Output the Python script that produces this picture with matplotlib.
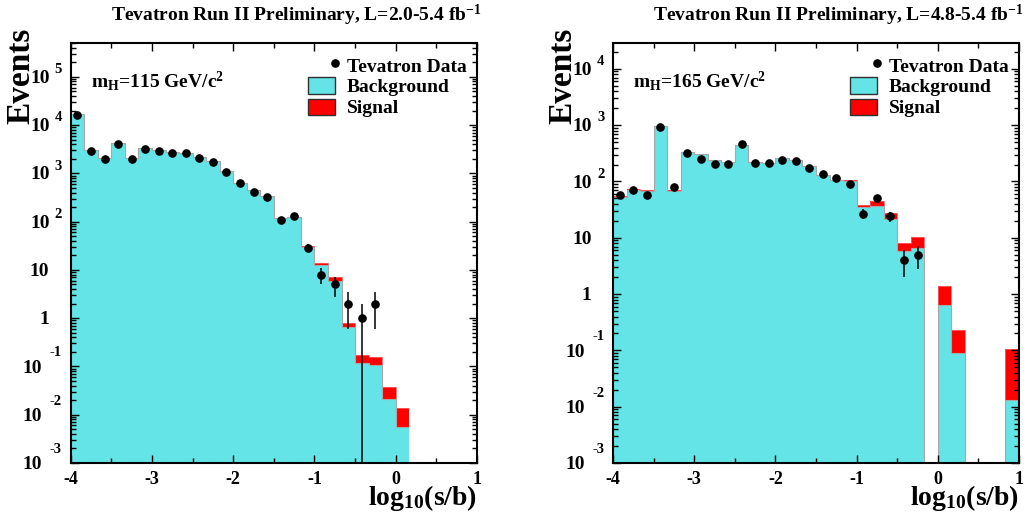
import matplotlib
matplotlib.use('Agg')
import matplotlib.pyplot as plt
import numpy as np
from matplotlib.patches import Rectangle

plt.rcParams['font.family'] = ['Liberation Serif', 'DejaVu Serif']
plt.rcParams['font.weight'] = 'bold'
plt.rcParams['mathtext.fontset'] = 'custom'
plt.rcParams['mathtext.rm'] = 'Liberation Serif:bold'
plt.rcParams['mathtext.bf'] = 'Liberation Serif:bold'
plt.rcParams['mathtext.it'] = 'Liberation Serif:bold'
plt.rcParams['mathtext.default'] = 'bf'

CYAN = '#64E4E6'
RED = '#FF0000'

# ---- data: log10(s/b) bins of width 1/6 starting at -4 ----
binWidth = 1.0 / 6.0

# m_H = 115 GeV
bkg115 = [16600, 3000, 2090, 4170, 2040, 3390, 3000, 2790, 2700, 2140, 1820, 1110,
          620, 445, 340, 117, 123, 30, 12.6, 6.0, 0.65, 0.119, 0.107, 0.021, 0.0056]
sig115 = [0.5, 0.2, 0.2, 0.5, 0.3, 0.6, 0.6, 0.6, 0.7, 0.7, 0.8, 0.9,
          1.0, 1.2, 2.0, 1.5, 1.7, 1.6, 1.2, 1.1, 0.13, 0.053, 0.048, 0.016, 0.008]
data115 = [16000, 2900, 1950, 4000, 1950, 3270, 2920, 2660, 2580, 2040, 1700, 1070,
           620, 420, 325, 107, 130, 29, 8, 5, 2, 1, 2]

# m_H = 165 GeV
bkg165 = [54, 72, 69, 970, 69, 330, 310, 240, 218, 445, 218, 209, 257, 240, 188,
          130, 105, 100, 35, 37, 21.5, 5.9, 6.7, 0, 0.65, 0.089, 0, 0, 0, 0.0131]
sig165 = [0.3, 0.4, 0.4, 2, 0.5, 1, 1, 1, 1, 2, 1.5, 2, 2, 2, 2.5,
          3, 3, 7, 4, 8, 6.5, 2.3, 3.5, 0, 0.74, 0.14, 0, 0, 0, 0.093]
data165 = [58, 72, 58, 940, 81, 325, 254, 202, 202, 463, 209, 213, 245, 234, 171,
           136, 117, 89, 27, 50, 24, 4, 5]

titles = ['Tevatron Run II Preliminary, L=2.0-5.4 fb$^{-1}$',
          'Tevatron Run II Preliminary, L=4.8-5.4 fb$^{-1}$']
massLabels = [r'$\mathbf{m_{H}}$=115 GeV/c$^{2}$', r'$\mathbf{m_{H}}$=165 GeV/c$^{2}$']
ylims = [(1e-3, 10**5.7), (1e-3, 10**4.46)]
decades = [range(-3, 6), range(-3, 5)]

W, H = 1027, 517
fig = plt.figure(figsize=(W / 100, H / 100), dpi=100)
axLeft = fig.add_axes([70.7 / W, 54 / H, 406.3 / W, 420 / H])
axRight = fig.add_axes([613 / W, 54 / H, 406 / W, 420 / H])


def draw_panel(ax, bkg, sig, data, title, massLabel, ylim, decs):
    bkg = np.array(bkg, dtype=float)
    tot = bkg + np.array(sig, dtype=float)
    n = len(bkg)
    edges = -4 + binWidth * np.arange(n + 1)
    centers = 0.5 * (edges[:-1] + edges[1:])

    ax.set_yscale('log')
    ax.bar(centers, tot, width=binWidth, color=RED, linewidth=0)
    ax.bar(centers, bkg, width=binWidth, color=CYAN, linewidth=0)
    ax.stairs(np.where(tot > 0, tot, 1e-6), edges, baseline=None, color='#ff6060', lw=0.6)
    ax.stairs(np.where(bkg > 0, bkg, 1e-6), edges, baseline=None, color='#a8a8a8', lw=0.8)

    d = np.array(data, dtype=float)
    xc = centers[:len(d)]
    err = np.sqrt(d)
    ax.vlines(xc, np.maximum(d - err, 1e-6), d + err, color='black', lw=1.1, zorder=4)
    ax.plot(xc, d, 'o', color='black', ms=5.2, zorder=5)

    ax.set_xlim(-4, 1)
    ax.set_ylim(*ylim)
    ax.set_xticks(np.arange(-4, 1.01, 1))
    ax.set_xticks(np.arange(-3.5, 1, 1), minor=True)
    ax.set_xticklabels([f'{int(v)}' for v in np.arange(-4, 1.01, 1)])
    ax.yaxis.set_major_locator(matplotlib.ticker.LogLocator(base=10, numticks=20))
    ax.yaxis.set_minor_locator(matplotlib.ticker.LogLocator(base=10, subs=np.arange(2, 10), numticks=20))
    ax.yaxis.set_major_formatter(matplotlib.ticker.NullFormatter())
    ax.yaxis.set_minor_formatter(matplotlib.ticker.NullFormatter())
    ax.tick_params(which='both', direction='in', top=True, right=True, width=1)
    ax.tick_params(which='major', length=6)
    ax.tick_params(which='minor', length=3.5)
    ax.tick_params(axis='x', which='major', labelsize=13, pad=6)
    for s in ax.spines.values():
        s.set_linewidth(1.5)

    # ROOT-style y tick labels
    tr = ax.get_yaxis_transform()
    for dd in decs:
        y = 10.0 ** dd
        if dd == 0 or dd == 1:
            ax.annotate(str(int(y)), xy=(0, y), xycoords=tr, xytext=(-15.5, -4.4),
                        textcoords='offset points', ha='right', va='baseline',
                        fontsize=14, fontweight='bold')
        else:
            ax.annotate(str(dd), xy=(0, y), xycoords=tr, xytext=(-6.3, 2.7 if dd > 0 else 7.2),
                        textcoords='offset points', ha='right', va='baseline',
                        fontsize=10.5, fontweight='bold')
            ax.annotate('10', xy=(0, y), xycoords=tr, xytext=(-15.0 if dd > 0 else -20.5, -4.4),
                        textcoords='offset points', ha='right', va='baseline',
                        fontsize=14, fontweight='bold')

    ax.text(-50 / 406, 0.923, 'Events', transform=ax.transAxes, rotation=90,
            ha='center', va='center', fontsize=24, fontweight='bold')
    ax.text(1.0, -0.1, r'$\mathbf{log_{10}(s/b)}$', transform=ax.transAxes,
            ha='right', va='baseline', fontsize=20)
    ax.text(1.0 + 5 / 406, 1 + 22 / 420, title, transform=ax.transAxes,
            ha='right', va='baseline', fontsize=14, fontweight='bold')
    ax.text(0.05, 0.895, massLabel, transform=ax.transAxes,
            ha='left', va='baseline', fontsize=14, fontweight='bold')

    # legend
    ax.plot([0.651], [0.952], 'o', color='black', ms=5.2, transform=ax.transAxes, clip_on=False)
    ax.add_patch(Rectangle((0.583, 0.879), 0.067, 0.040, transform=ax.transAxes,
                           facecolor=CYAN, edgecolor='#303030', lw=1))
    ax.add_patch(Rectangle((0.583, 0.829), 0.067, 0.038, transform=ax.transAxes,
                           facecolor=RED, edgecolor='#303030', lw=1))
    ax.text(0.680, 0.932, 'Tevatron Data', transform=ax.transAxes, ha='left', va='baseline',
            fontsize=14, fontweight='bold')
    ax.text(0.680, 0.884, 'Background', transform=ax.transAxes, ha='left', va='baseline',
            fontsize=14, fontweight='bold')
    ax.text(0.680, 0.833, 'Signal', transform=ax.transAxes, ha='left', va='baseline',
            fontsize=14, fontweight='bold')


draw_panel(axLeft, bkg115, sig115, data115, titles[0], massLabels[0], ylims[0], decades[0])
draw_panel(axRight, bkg165, sig165, data165, titles[1], massLabels[1], ylims[1], decades[1])

fig.savefig('out.png', dpi=100)
